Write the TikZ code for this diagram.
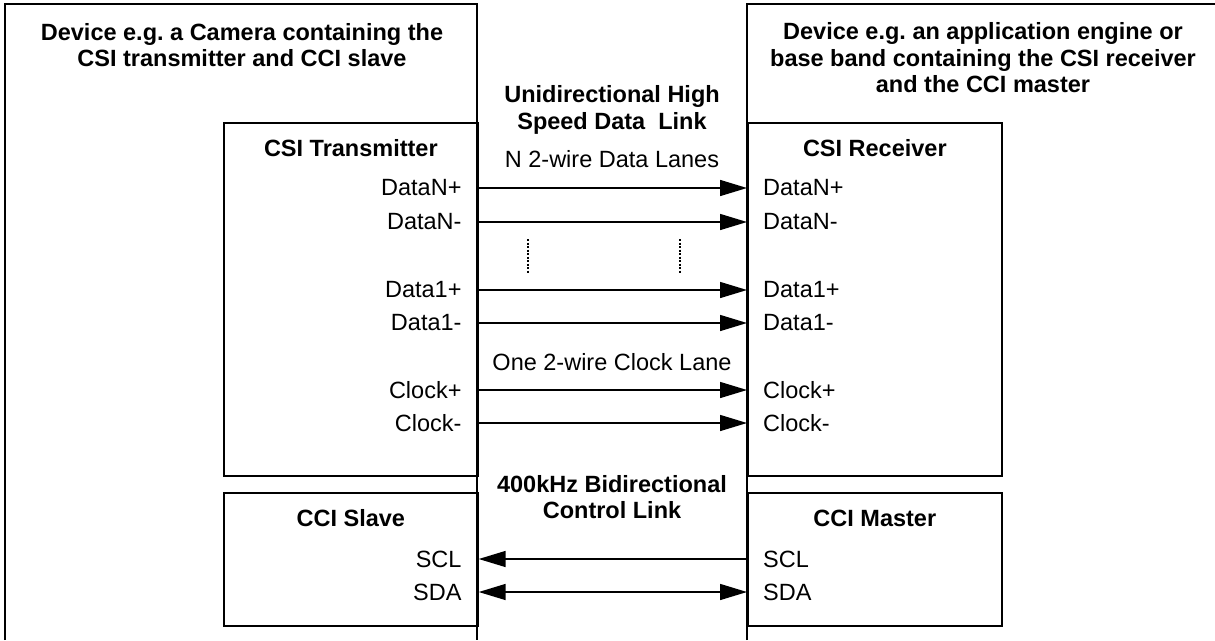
\documentclass[tikz,border=0pt]{standalone}
\usepackage{fontspec}
\setmainfont{Liberation Sans}
\frenchspacing
\usetikzlibrary{arrows.meta,positioning}
\tikzset{
  box/.style={draw,line width=1.7pt,minimum width=254pt,anchor=north west,inner sep=0pt},
  head/.style={font=\fontsize{23.5}{26.5}\selectfont\bfseries,align=center},
  lbl/.style={font=\fontsize{23.5}{26}\selectfont,inner sep=0pt},
  lane/.style={line width=1.5pt,-{Triangle[length=27pt,width=16pt]}},
  backlane/.style={line width=1.5pt,{Triangle[length=27pt,width=16pt]}-},
  bothlane/.style={line width=1.5pt,{Triangle[length=27pt,width=16pt]}-{Triangle[length=27pt,width=16pt]}},
  dots/.style={line width=1.1pt,dash pattern=on 2pt off 1.5pt},
}
\begin{document}
\begin{tikzpicture}[x=1pt,y=-1pt]
\useasboundingbox (0,0) rectangle (1215,640);
% device frames, open at the bottom
\draw[line width=1.7pt] (5,640) |- (477,4) -- (477,640);
\draw[line width=1.7pt] (747,640) |- (1215,4);
\node[head] (camtitle) at (242,45) {Device e.g. a Camera containing the\\CSI transmitter and CCI slave};
\node[head] (hosttitle) at (983,58) {Device e.g. an application engine or\\base band containing the CSI receiver\\and the CCI master};
% blocks
\node[box,minimum height=353pt] (tx) at (223,122) {};
\node[box,minimum height=353pt] (rx) at (747,122) {};
\node[box,minimum height=133pt] (slave) at (223,492) {};
\node[box,minimum height=133pt] (master) at (747,492) {};
\node[head] at ([yshift=-26pt]tx.north) {CSI Transmitter};
\node[head] at ([yshift=-26pt]rx.north) {CSI Receiver};
\node[head] at ([yshift=-26pt]slave.north) {CCI Slave};
\node[head] at ([yshift=-26pt]master.north) {CCI Master};
% link captions
\node[head] (hslink) at (612,110) {Unidirectional High\\Speed Data\ \ Link};
\node[lbl] (nlanes) at (612,159) {N 2-wire Data Lanes};
\node[lbl] (clklane) at (612,362) {One 2-wire Clock Lane};
\node[head] (ctllink) at (612,497) {400kHz Bidirectional\\Control Link};
% high speed lanes
\foreach \y/\sig [count=\i] in {188/DataN+,222/DataN-,290/Data1+,323/Data1-,390/Clock+,423/Clock-}{
  \coordinate (row\i) at (0,\y);
  \coordinate (ta\i) at (tx.east |- row\i);
  \coordinate (rb\i) at (rx.west |- row\i);
  \node[lbl,left=17pt of ta\i] (txs\i) {\sig};
  \node[lbl,right=16pt of rb\i] (rxs\i) {\sig};
  \draw[lane] (ta\i) -- (rb\i);
}
\draw[dots] (528,239) -- (528,273);
\draw[dots] (680,239) -- (680,273);
% control link
\coordinate (sclrow) at (0,559);
\coordinate (sdarow) at (0,592);
\coordinate (sclS) at (slave.east |- sclrow);
\coordinate (sclM) at (master.west |- sclrow);
\coordinate (sdaS) at (slave.east |- sdarow);
\coordinate (sdaM) at (master.west |- sdarow);
\node[lbl,left=17pt of sclS] (sclsl) {SCL};
\node[lbl,left=17pt of sdaS] (sdasl) {SDA};
\node[lbl,right=16pt of sclM] (sclma) {SCL};
\node[lbl,right=16pt of sdaM] (sdama) {SDA};
\draw[backlane] (sclS) -- (sclM);
\draw[bothlane] (sdaS) -- (sdaM);
\end{tikzpicture}
\end{document}
